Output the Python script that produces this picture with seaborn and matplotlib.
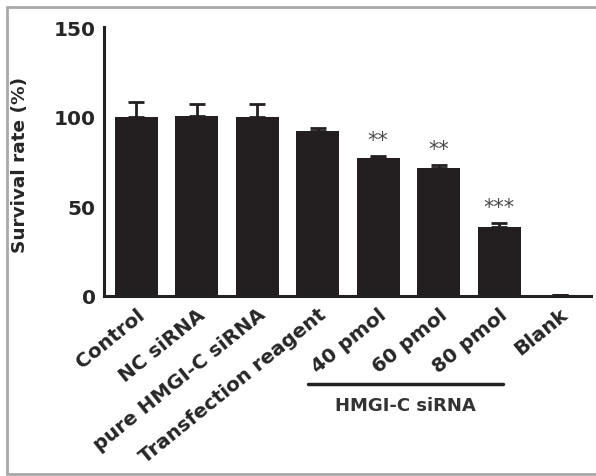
import matplotlib
matplotlib.use("Agg")
import matplotlib.pyplot as plt
from matplotlib.lines import Line2D
import matplotlib.transforms as mtransforms
import numpy as np
import pandas as pd
import seaborn as sns

# Cell survival by treatment group
groups = ["Control", "NC siRNA", "pure HMGI-C siRNA", "Transfection reagent",
          "40 pmol", "60 pmol", "80 pmol", "Blank"]
survival = [100.0, 100.5, 100.0, 92.0, 76.9, 71.5, 38.4, 0.5]
sem = [8.2, 6.5, 7.0, 1.8, 1.1, 1.5, 2.2, 0.0]
stars = ["", "", "", "", "**", "**", "***", ""]
bracket_group = "HMGI-C siRNA"

sns.set_theme(style="white")
plt.rcParams["font.family"] = ["DejaVu Sans"]
plt.rcParams["font.weight"] = "bold"

df = pd.DataFrame({"group": groups, "survival": survival})

fig = plt.figure(figsize=(5.96, 4.77), dpi=100)
fig.patch.set_facecolor("white")
ax = fig.add_axes([104 / 596, 1 - 297 / 477, 487 / 596, 269 / 477])

bar_color = "#231f20"
text_color = "#262626"
sns.barplot(data=df, x="group", y="survival", color=bar_color, saturation=1,
            width=0.71, errorbar=None, ax=ax, edgecolor=bar_color, linewidth=0)

x = np.arange(len(groups))
ax.errorbar(x, survival, yerr=[np.zeros(len(sem)), sem], fmt="none",
            ecolor=bar_color, elinewidth=2, capsize=5.8, capthick=2, zorder=3)

for xi, val, err, s in zip(x, survival, sem, stars):
    if s:
        ax.text(xi, val + err + 9, s, ha="center", va="center", fontsize=15,
                color="#4a4a4a", fontweight="normal")

ax.set_xlim(-0.53, 7.52)
ax.set_ylim(0, 150)
ax.set_yticks([0, 50, 100, 150])
ax.set_ylabel("Survival rate (%)", fontsize=13.3, fontweight="bold",
              color=text_color)
ax.yaxis.set_label_coords(-(104 - 29) / 487, 0.49)
ax.set_xlabel("")
ax.set_xticks(x)
ax.set_xticklabels(groups, rotation=39, ha="right", rotation_mode="anchor",
                   fontsize=14.3, fontweight="bold", color=text_color)
for lab in ax.get_yticklabels():
    lab.set_fontsize(14.5)
    lab.set_fontweight("bold")
    lab.set_color(text_color)

for side in ["top", "right"]:
    ax.spines[side].set_visible(False)
for side in ["left", "bottom"]:
    ax.spines[side].set_linewidth(2.2)
    ax.spines[side].set_color("#222222")
ax.tick_params(axis="both", direction="out", length=5, width=2, color="#222222")
ax.tick_params(axis="y", pad=1)
ax.tick_params(axis="x", pad=1)

# Bracket under the siRNA dose labels
trans = mtransforms.blended_transform_factory(ax.transData, fig.transFigure)
ax.add_line(Line2D([2.84, 6.07], [1 - 385 / 477, 1 - 385 / 477], transform=trans,
                   color="#222222", lw=2.5, clip_on=False))
ax.text(4.445, 1 - 406 / 477, bracket_group, transform=trans, ha="center",
        va="center", fontsize=13, fontweight="bold", color="#333333")

# Panel frame
frame_kw = dict(color="#a8a8a8", lw=2, transform=fig.transFigure)
fig.add_artist(Line2D([6.5 / 596, 6.5 / 596], [1 - 7.5 / 477, 1 - 475 / 477], **frame_kw))
fig.add_artist(Line2D([6.5 / 596, 1.0], [1 - 7.5 / 477, 1 - 7.5 / 477], **frame_kw))
fig.add_artist(Line2D([6.5 / 596, 1.0], [1 - 475 / 477, 1 - 475 / 477], **frame_kw))

fig.savefig("out.png", dpi=100, facecolor="white")
